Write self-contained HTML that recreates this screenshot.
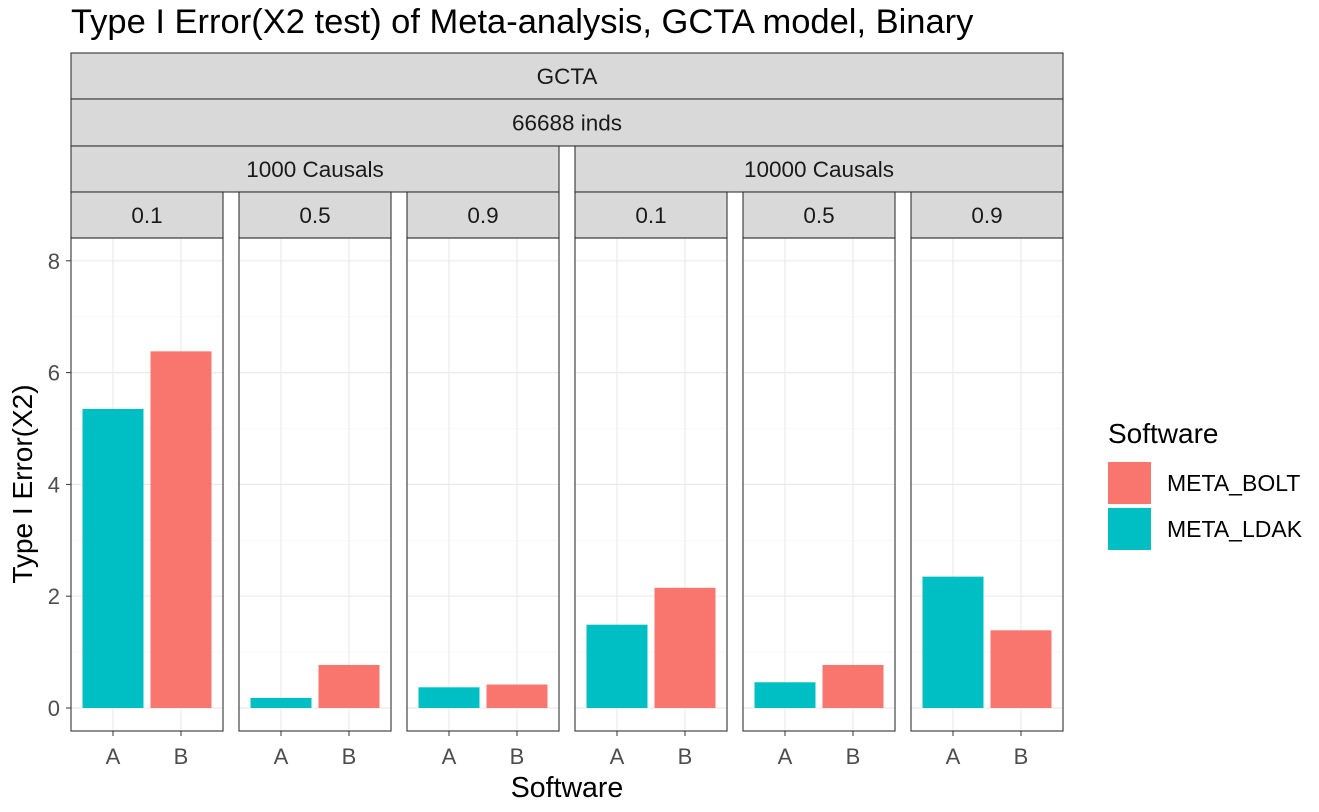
<!DOCTYPE html>
<html><head><meta charset="utf-8"><style>
body{margin:0;background:#fff;font-family:"Liberation Sans",Arial,sans-serif}
</style></head><body>
<svg id="c" width="1319" height="807" xmlns="http://www.w3.org/2000/svg" font-family="Liberation Sans, Arial, sans-serif"></svg>
<script>
const categories=["A","B"];
const panelProps=["0.1","0.5","0.9","0.1","0.5","0.9"];
const causalLabels=["1000 Causals","10000 Causals"];
const valuesA=[5.35,0.18,0.37,1.49,0.46,2.35];
const valuesB=[6.38,0.77,0.42,2.15,0.77,1.39];
const yTicks=[0,2,4,6,8];
const NS="http://www.w3.org/2000/svg";
const svg=document.getElementById('c');
function el(t,a,p){const e=document.createElementNS(NS,t);for(const k in a)e.setAttribute(k,a[k]);(p||svg).appendChild(e);return e;}
const y0=708,ppu=55.9;
const y=v=>y0-v*ppu;
const panelX=[71,239,407,575,743,911],pw=152,pt=238,pb=731;
const x=(p,c)=>panelX[p]+42+c*68;
let t=el('text',{x:71,y:33,'font-size':34.5,fill:'#000'});t.textContent='Type I Error(X2 test) of Meta-analysis, GCTA model, Binary';

function strip(x1,x2,y1,y2,label,name){const g=el('g',{});
el('rect',{x:x1,y:y1,width:x2-x1,height:y2-y1,fill:'#d9d9d9',stroke:'#333','stroke-width':1.1},g);
const tx=el('text',{x:(x1+x2)/2,y:(y1+y2)/2+8,'text-anchor':'middle','font-size':22.5,fill:'#1a1a1a'},g);tx.textContent=label;}
strip(71,1063,53,99,'GCTA','strip-gcta');
strip(71,1063,99,146,'66688 inds','strip-inds');
strip(71,559,146,192,causalLabels[0],'strip-causals-1000');
strip(575,1063,146,192,causalLabels[1],'strip-causals-10000');
panelX.forEach((px,p)=>{
 strip(px,px+pw,192,238,panelProps[p],'strip-prop-'+(p+1));
 const g=el('g',{});
 for(let v=1;v<8;v+=2)el('line',{x1:px,x2:px+pw,y1:y(v),y2:y(v),stroke:'#f0f0f0','stroke-width':0.6},g);
 yTicks.forEach(v=>el('line',{x1:px,x2:px+pw,y1:y(v),y2:y(v),stroke:'#ebebeb','stroke-width':1.2},g));
 categories.forEach((c,i)=>el('line',{x1:x(p,i),x2:x(p,i),y1:pt,y2:pb,stroke:'#ebebeb','stroke-width':1.2},g));
 const bw=61;
 const ba=el('rect',{x:x(p,0)-bw/2,y:y(valuesA[p]),width:bw,height:y0-y(valuesA[p]),fill:'#00BFC4'},g);
 
 const bb=el('rect',{x:x(p,1)-bw/2,y:y(valuesB[p]),width:bw,height:y0-y(valuesB[p]),fill:'#F8766D'},g);
 
 el('rect',{x:px,y:pt,width:pw,height:pb-pt,fill:'none',stroke:'#333','stroke-width':1.1},g);
 categories.forEach((c,i)=>{el('line',{x1:x(p,i),x2:x(p,i),y1:pb,y2:pb+5,stroke:'#333'},g);
  const l=el('text',{x:x(p,i),y:764,'text-anchor':'middle','font-size':22,fill:'#4d4d4d'},g);l.textContent=c;});
});
yTicks.forEach(v=>{el('line',{x1:66,x2:71,y1:y(v),y2:y(v),stroke:'#333'});
 const l=el('text',{x:60,y:y(v)+8,'text-anchor':'end','font-size':22,fill:'#4d4d4d'});l.textContent=v;});
t=el('text',{x:567,y:797,'text-anchor':'middle','font-size':28.5,fill:'#000'});t.textContent='Software';

t=el('text',{x:0,y:0,'text-anchor':'middle','font-size':28,fill:'#000',transform:'translate(32,484) rotate(-90)'});t.textContent='Type I Error(X2)';

const lg=el('g',{});
t=el('text',{x:1108,y:443,'font-size':28,fill:'#000'},lg);t.textContent='Software';
[['META_BOLT','#F8766D',462],['META_LDAK','#00BFC4',508]].forEach(([n,col,yy])=>{
 const e=el('g',{},lg);
 el('rect',{x:1108,y:yy,width:43,height:42,fill:col},e);
 const l=el('text',{x:1167,y:yy+29,'font-size':23,fill:'#000'},e);l.textContent=n;});
</script>
</body></html>
